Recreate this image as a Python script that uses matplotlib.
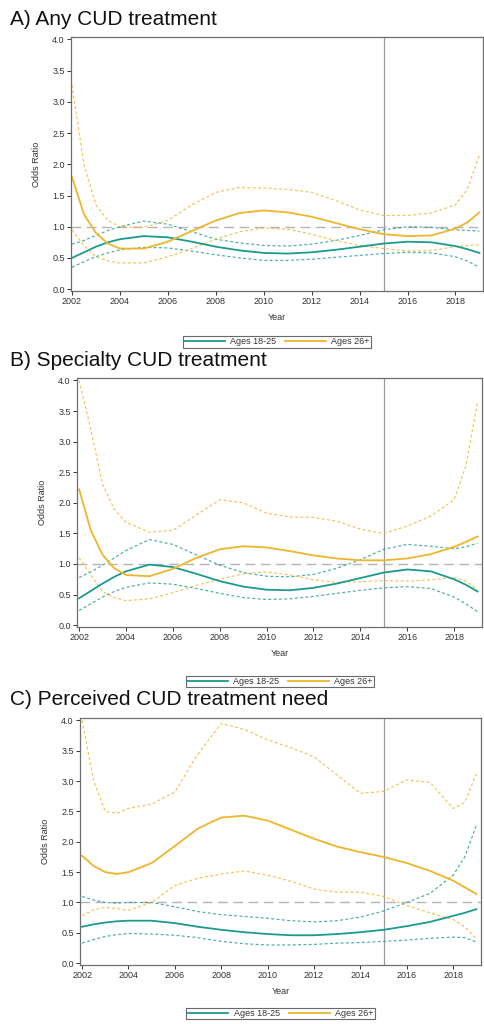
import numpy as np
import matplotlib
matplotlib.use('Agg')
import matplotlib.pyplot as plt

plt.rcParams['font.family'] = ['Liberation Sans', 'DejaVu Sans']

# x grid (years, with half years where curves bend fast)
yrs = [2002, 2002.5, 2003, 2003.5, 2004, 2005, 2006, 2007, 2008, 2009, 2010,
       2011, 2012, 2013, 2014, 2015, 2016, 2017, 2018, 2018.5, 2019]

# A) Any CUD treatment
a_teal = [0.50, 0.59, 0.68, 0.75, 0.80, 0.85, 0.83, 0.76, 0.68, 0.62, 0.58,
          0.57, 0.59, 0.63, 0.68, 0.73, 0.76, 0.75, 0.69, 0.64, 0.58]
a_teal_hi = [0.72, 0.78, 0.86, 0.94, 1.00, 1.09, 1.04, 0.92, 0.80, 0.74, 0.70,
             0.69, 0.72, 0.78, 0.86, 0.95, 1.00, 0.99, 0.95, 0.94, 0.93]
a_teal_lo = [0.35, 0.44, 0.52, 0.58, 0.63, 0.67, 0.66, 0.61, 0.55, 0.50, 0.46,
             0.46, 0.48, 0.51, 0.54, 0.57, 0.59, 0.58, 0.52, 0.45, 0.35]
a_gold = [1.80, 1.20, 0.90, 0.73, 0.65, 0.65, 0.76, 0.93, 1.10, 1.22, 1.26,
          1.23, 1.16, 1.06, 0.96, 0.88, 0.85, 0.86, 0.97, 1.07, 1.23]
a_gold_hi = [3.27, 2.00, 1.35, 1.10, 1.00, 0.99, 1.10, 1.35, 1.55, 1.63, 1.62,
             1.60, 1.55, 1.42, 1.27, 1.18, 1.18, 1.22, 1.35, 1.60, 2.15]
a_gold_lo = [0.95, 0.70, 0.52, 0.45, 0.42, 0.42, 0.52, 0.65, 0.80, 0.92, 0.98,
             0.96, 0.88, 0.78, 0.70, 0.65, 0.61, 0.62, 0.68, 0.70, 0.71]

# B) Specialty CUD treatment
b_teal = [0.44, 0.56, 0.68, 0.79, 0.88, 0.99, 0.95, 0.84, 0.72, 0.63, 0.58,
          0.57, 0.61, 0.68, 0.77, 0.86, 0.91, 0.88, 0.75, 0.66, 0.55]
b_teal_hi = [0.78, 0.87, 0.98, 1.10, 1.22, 1.40, 1.32, 1.15, 0.98, 0.86, 0.80,
             0.79, 0.83, 0.93, 1.07, 1.24, 1.32, 1.29, 1.25, 1.28, 1.34]
b_teal_lo = [0.24, 0.35, 0.46, 0.55, 0.62, 0.69, 0.67, 0.60, 0.52, 0.45, 0.42,
             0.43, 0.47, 0.52, 0.57, 0.61, 0.63, 0.60, 0.46, 0.35, 0.22]
b_gold = [2.22, 1.55, 1.15, 0.93, 0.82, 0.80, 0.92, 1.10, 1.24, 1.29, 1.27,
          1.21, 1.14, 1.09, 1.06, 1.06, 1.09, 1.16, 1.28, 1.36, 1.45]
b_gold_hi = [4.00, 3.20, 2.30, 1.90, 1.68, 1.52, 1.55, 1.80, 2.05, 2.00, 1.83,
             1.77, 1.76, 1.70, 1.57, 1.50, 1.62, 1.78, 2.05, 2.60, 3.65]
b_gold_lo = [1.10, 0.82, 0.55, 0.45, 0.40, 0.43, 0.53, 0.65, 0.75, 0.84, 0.87,
             0.82, 0.74, 0.70, 0.71, 0.73, 0.72, 0.74, 0.78, 0.72, 0.58]

# C) Perceived CUD treatment need
c_teal = [0.60, 0.64, 0.67, 0.69, 0.70, 0.70, 0.66, 0.60, 0.55, 0.51, 0.48,
          0.46, 0.46, 0.48, 0.51, 0.55, 0.61, 0.68, 0.78, 0.83, 0.89]
c_teal_hi = [1.10, 1.04, 1.00, 0.99, 1.00, 1.00, 0.93, 0.85, 0.80, 0.77, 0.74,
             0.70, 0.68, 0.70, 0.76, 0.86, 1.00, 1.15, 1.45, 1.75, 2.27]
c_teal_lo = [0.33, 0.39, 0.44, 0.47, 0.49, 0.48, 0.46, 0.42, 0.36, 0.32, 0.30,
             0.30, 0.31, 0.33, 0.34, 0.36, 0.38, 0.41, 0.43, 0.42, 0.35]
c_gold = [1.77, 1.60, 1.50, 1.47, 1.50, 1.65, 1.93, 2.22, 2.40, 2.43, 2.35,
          2.20, 2.05, 1.92, 1.83, 1.75, 1.65, 1.52, 1.36, 1.25, 1.14]
c_gold_hi = [4.00, 3.00, 2.50, 2.47, 2.55, 2.62, 2.82, 3.45, 3.95, 3.85, 3.68,
             3.55, 3.40, 3.10, 2.80, 2.83, 3.02, 2.98, 2.55, 2.65, 3.12]
c_gold_lo = [0.78, 0.88, 0.92, 0.90, 0.87, 1.00, 1.28, 1.40, 1.47, 1.52, 1.45,
             1.35, 1.22, 1.17, 1.17, 1.10, 0.95, 0.83, 0.72, 0.60, 0.40]

titles = ['A) Any CUD treatment', 'B) Specialty CUD treatment',
          'C) Perceived CUD treatment need']
labels = ['Ages 18-25', 'Ages 26+']
teal = '#1b9a8e'
gold = '#efb52b'

panels = [
    (a_teal, a_teal_hi, a_teal_lo, a_gold, a_gold_hi, a_gold_lo),
    (b_teal, b_teal_hi, b_teal_lo, b_gold, b_gold_hi, b_gold_lo),
    (c_teal, c_teal_hi, c_teal_lo, c_gold, c_gold_hi, c_gold_lo),
]

W, H = 485, 1024
fig = plt.figure(figsize=(W / 100, H / 100), dpi=100)

# pixel boxes: left, right, top, bottom
boxes = [(71, 483, 37, 291), (77, 482, 378, 627), (80, 481, 718, 965)]
xlims = [(2001.96, 2019.15), (2001.91, 2019.19), (2001.91, 2019.2)]
title_y = [25, 366, 705]
leg_pos = [(277, 342), (280, 681.5), (280.5, 1013.5)]

for i, (box, data) in enumerate(zip(boxes, panels)):
    l, r, t, b = box
    ax = fig.add_axes([l / W, 1 - b / H, (r - l) / W, (b - t) / H])
    tm, thi, tlo, gm, ghi, glo = data
    ax.axhline(1.0, color='#b4b4b4', lw=1.0, dashes=(7, 4), zorder=1)
    ax.axvline(2015, color='#9a9a9a', lw=0.9, zorder=1)
    ax.plot(yrs, thi, color=teal, lw=0.85, dashes=(2.5, 2), alpha=0.8)
    ax.plot(yrs, tlo, color=teal, lw=0.85, dashes=(2.5, 2), alpha=0.8)
    ax.plot(yrs, ghi, color=gold, lw=0.85, dashes=(2.5, 2), alpha=0.8)
    ax.plot(yrs, glo, color=gold, lw=0.85, dashes=(2.5, 2), alpha=0.8)
    l1, = ax.plot(yrs, tm, color=teal, lw=1.3, label=labels[0])
    l2, = ax.plot(yrs, gm, color=gold, lw=1.3, label=labels[1])
    ax.set_xlim(*xlims[i])
    ax.set_ylim(-0.03, 4.04)
    ax.set_xticks(range(2002, 2019, 2))
    ax.set_yticks(np.arange(0, 4.01, 0.5))
    ax.set_yticklabels(['%.1f' % v for v in np.arange(0, 4.01, 0.5)])
    ax.tick_params(labelsize=6.5, colors='#333333', length=3, width=0.7, pad=1.5)
    for s in ax.spines.values():
        s.set_color('#6e6e6e')
        s.set_linewidth(0.9)
    ax.set_ylabel('Odds Ratio', fontsize=6.5, color='#333333', labelpad=8)
    ax.set_xlabel('Year', fontsize=6.5, color='#333333', labelpad=5)
    fig.text(10 / W, 1 - title_y[i] / H, titles[i], fontsize=15, color='#111111',
             va='baseline', ha='left')
    lx, ly = leg_pos[i]
    leg = fig.legend(handles=[l1, l2], loc='center', ncol=2,
                     bbox_to_anchor=(lx / W, 1 - ly / H), fontsize=6.5,
                     frameon=True, fancybox=False, edgecolor='#444444',
                     handlelength=4.5, handletextpad=0.6, columnspacing=1.0,
                     borderpad=0.15, labelcolor='#333333')
    leg.get_frame().set_linewidth(0.8)

fig.savefig('out.png', dpi=100)
